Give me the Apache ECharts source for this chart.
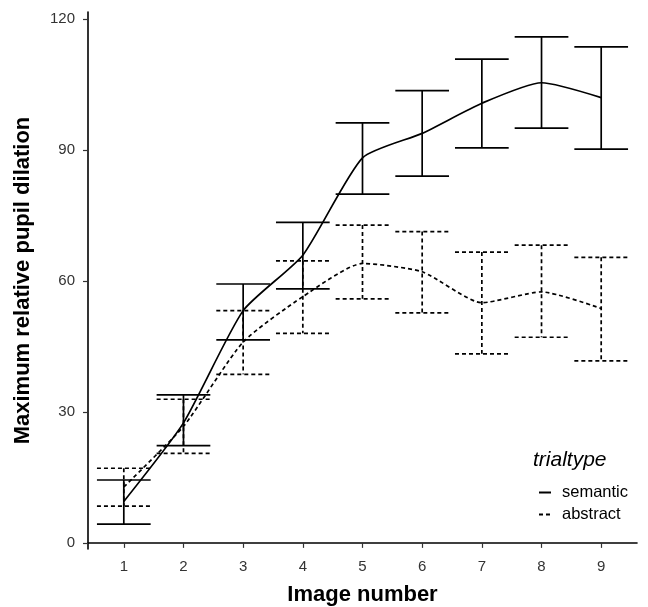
<!DOCTYPE html>
<html>
<head>
<meta charset="utf-8">
<script src="https://cdn.jsdelivr.net/npm/echarts@6.0.0/dist/echarts.min.js"></script>
<style>
  html, body { margin: 0; padding: 0; background: #fff; }
  #main { width: 648px; height: 607px; }
</style>
</head>
<body>
<div id="main"></div>
<script>
// image number on x
var imageNumbers = [1, 2, 3, 4, 5, 6, 7, 8, 9];
var yTicks = [0, 30, 60, 90, 120];

// semantic trials
var semanticMean = [9.5, 27.5, 53.2, 65.9, 88.2, 93.8, 100.7, 105.4, 102.0];
var semanticLow  = [4.3, 22.3, 46.5, 58.2, 79.9, 84.0, 90.5, 95.0, 90.2];
var semanticHigh = [14.4, 33.9, 59.3, 73.4, 96.2, 103.6, 110.8, 115.9, 113.6];

// abstract trials
var abstractMean = [12.8, 26.7, 46.0, 56.4, 64.0, 62.1, 55.0, 57.5, 53.7];
var abstractLow  = [8.4, 20.5, 38.6, 48.0, 55.9, 52.7, 43.3, 47.1, 41.7];
var abstractHigh = [17.1, 32.9, 53.2, 64.6, 72.8, 71.3, 66.6, 68.2, 65.4];

function pairs(vals) {
    return imageNumbers.map(function (x, i) { return [x, vals[i]]; });
}
function bars(lo, hi) {
    return imageNumbers.map(function (x, i) { return [x, lo[i], hi[i]]; });
}

// error bar drawing
function errorBar(dash) {
    return function (params, api) {
        var x = api.value(0);
        var pLo = api.coord([x, api.value(1)]);
        var pHi = api.coord([x, api.value(2)]);
        var half = api.size([0.9, 0])[0] / 2;
        var st = { stroke: '#000', lineWidth: 1.7, lineDash: dash, fill: null };
        return {
            type: 'group',
            children: [
                { type: 'line', shape: { x1: pHi[0] - half, y1: pHi[1], x2: pHi[0] + half, y2: pHi[1] }, style: st },
                { type: 'line', shape: { x1: pHi[0], y1: pHi[1], x2: pLo[0], y2: pLo[1] }, style: st },
                { type: 'line', shape: { x1: pLo[0] - half, y1: pLo[1], x2: pLo[0] + half, y2: pLo[1] }, style: st }
            ]
        };
    };
}

var font = 'Liberation Sans, Arial, sans-serif';
var myChart = echarts.init(document.getElementById('main'));
var option = {
    animation: false,
    backgroundColor: '#fff',
    grid: { left: 88, right: 11, top: 12, bottom: 58, outerBoundsMode: 'none' },
    xAxis: {
        type: 'value',
        min: 0.4,
        max: 9.6,
        name: 'Image number',
        nameLocation: 'middle',
        nameGap: 35,
        nameTextStyle: { fontFamily: font, fontSize: 22, fontWeight: 'bold', color: '#000' },
        axisLine: { lineStyle: { color: '#000', width: 1.6 } },
        axisTick: { length: 5, customValues: imageNumbers, lineStyle: { color: '#333', width: 1.2 } },
        axisLabel: { customValues: imageNumbers, margin: 10, fontFamily: font, fontSize: 15, color: '#333' },
        splitLine: { show: false }
    },
    yAxis: {
        type: 'value',
        min: -1.4,
        max: 121.6,
        name: 'Maximum relative pupil dilation',
        nameLocation: 'middle',
        nameGap: 54,
        nameTextStyle: { fontFamily: font, fontSize: 22, fontWeight: 'bold', color: '#000' },
        axisLine: { show: true, lineStyle: { color: '#000', width: 1.6 } },
        axisTick: { show: true, length: 5, customValues: yTicks, lineStyle: { color: '#333', width: 1.2 } },
        axisLabel: { customValues: yTicks, margin: 13, fontFamily: font, fontSize: 15, color: '#333' },
        splitLine: { show: false }
    },
    legend: {
        orient: 'vertical',
        left: 533,
        top: 479,
        itemWidth: 12,
        itemHeight: 14,
        itemGap: 5,
        data: ['semantic', 'abstract'],
        itemStyle: { color: 'rgba(0,0,0,0)', borderWidth: 0, opacity: 0 },
        textStyle: { fontFamily: font, fontSize: 16.5, color: '#000', padding: [0, 0, 0, 6] }
    },
    graphic: [{
        type: 'text',
        left: 533,
        top: 450,
        style: { text: 'trialtype', font: 'italic 21px ' + font, fill: '#000' }
    }],
    series: [
        {
            name: 'semantic',
            type: 'line',
            data: pairs(semanticMean),
            symbol: 'none',
            smooth: 0.2,
            lineStyle: { color: '#000', width: 1.7, type: 'solid' },
            itemStyle: { color: '#000' }
        },
        {
            name: 'abstract',
            type: 'line',
            data: pairs(abstractMean),
            symbol: 'none',
            smooth: 0.2,
            lineStyle: { color: '#000', width: 1.7, type: [4, 3] },
            itemStyle: { color: '#000' }
        },
        {
            name: 'semantic SE',
            type: 'custom',
            renderItem: errorBar(null),
            data: bars(semanticLow, semanticHigh),
            encode: { x: 0, y: [1, 2] }
        },
        {
            name: 'abstract SE',
            type: 'custom',
            renderItem: errorBar([4, 3]),
            data: bars(abstractLow, abstractHigh),
            encode: { x: 0, y: [1, 2] }
        }
    ]
};
myChart.setOption(option);
</script>
</body>
</html>
